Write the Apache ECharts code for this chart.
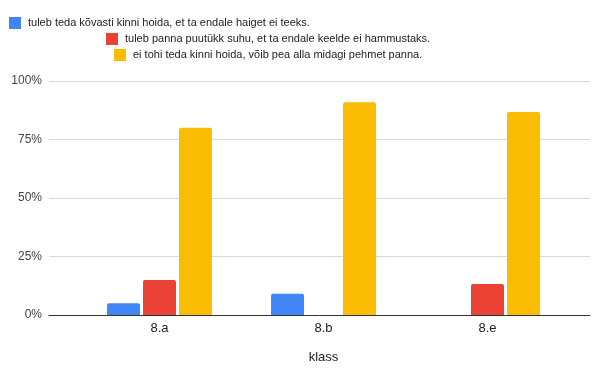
<!DOCTYPE html>
<html><head><meta charset="utf-8">
<script src="https://cdn.jsdelivr.net/npm/echarts@6/dist/echarts.min.js"></script>
<style>html,body{margin:0;padding:0;background:#fff}#c{width:594px;height:374px}</style>
</head><body><div id="c"></div>
<script>
const categories = ['8.a', '8.b', '8.e'];
const seriesNames = [
  'tuleb teda kõvasti kinni hoida, et ta endale haiget ei teeks.',
  'tuleb panna puutükk suhu, et ta endale keelde ei hammustaks.',
  'ei tohi teda kinni hoida, võib pea alla midagi pehmet panna.'
];
const valuesBlue = [0.05, 0.091, 0];
const valuesRed = [0.15, 0, 0.133];
const valuesYellow = [0.80, 0.909, 0.867];
const yTicks = [0, 0.25, 0.5, 0.75, 1];
const xAxisName = 'klass';

const colors = ['#4285F4', '#EA4335', '#FBBC04'];
const font = 'Liberation Sans, Arial, sans-serif';
const chart = echarts.init(document.getElementById('c'));
const seriesValues = [valuesBlue, valuesRed, valuesYellow];
const legendPos = [{left: 9, top: 17}, {left: 106, top: 33}, {left: 114, top: 49}];

chart.setOption({
  animation: false,
  color: colors,
  textStyle: {fontFamily: font},
  legend: seriesNames.map((n, i) => ({
    data: [n], left: legendPos[i].left, top: legendPos[i].top, padding: 0,
    itemWidth: 12, itemHeight: 12, icon: 'rect', selectedMode: false,
    itemStyle: {borderRadius: 1},
    textStyle: {fontSize: 11, color: '#222', fontFamily: font, padding: [2, 0, 0, 2]}
  })),
  grid: [
    {left: 49, right: 4, top: 81, bottom: 59},
    {left: 77.5, right: 24.5, top: 81, bottom: 59}
  ],
  xAxis: [
    {type: 'value', gridIndex: 0, min: 0, max: 1, axisLabel: {show: false}, splitLine: {show: false},
     axisTick: {show: false}, axisLine: {show: true, lineStyle: {color: '#333', width: 1}}, z: 10},
    {type: 'category', gridIndex: 1, data: categories, axisLine: {show: false}, axisTick: {show: false},
     axisLabel: {fontSize: 13, color: '#222', margin: 7, fontFamily: font},
     name: xAxisName, nameLocation: 'middle', nameGap: 36,
     nameTextStyle: {fontSize: 13, color: '#222', fontFamily: font}}
  ],
  yAxis: [
    {type: 'value', gridIndex: 0, min: 0, max: 1, interval: 0.25,
     axisLabel: {formatter: v => Math.round(v * 100) + '%', fontSize: 12, color: '#444', margin: 7, fontFamily: font,
       customValues: yTicks},
     axisLine: {show: false}, axisTick: {show: false},
     splitLine: {lineStyle: {color: '#d9d9d9', width: 1}}},
    {type: 'value', gridIndex: 1, min: 0, max: 1, show: false}
  ],
  series: seriesNames.map((n, i) => ({
    name: n, type: 'bar', xAxisIndex: 1, yAxisIndex: 1,
    data: seriesValues[i], barWidth: 33, barGap: '9%',
    itemStyle: {color: colors[i], borderRadius: [2, 2, 0, 0]}
  }))
});
</script></body></html>
